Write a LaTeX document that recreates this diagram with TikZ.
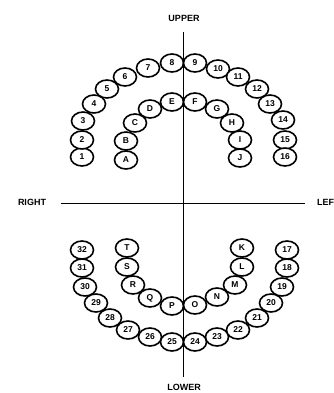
\documentclass[tikz,border=0pt]{standalone}
\usepackage{fontspec}
\setmainfont{Liberation Sans}
\usetikzlibrary{shapes.geometric, positioning}

\tikzset{
  tooth/.style={ellipse, draw, line width=1.6pt, fill=white, minimum width=23pt,
    minimum height=18pt, inner sep=0pt, font=\fontsize{8.5}{9}\selectfont\bfseries},
  side/.style={font=\fontsize{9}{10}\selectfont\bfseries, inner sep=0pt},
  axis/.style={line width=1pt}
}

\begin{document}
\begin{tikzpicture}[x=1pt, y=-1pt]
   \useasboundingbox[fill=white] (0,0) rectangle (333,393);
   % axes
   \coordinate (top) at (183,32);
   \coordinate (bottom) at (183,377);
   \coordinate (west) at (61,203);
   \coordinate (east) at (305,203);
   \draw[axis] (top) -- (bottom);
   \draw[axis] (west) -- (east);
   \node[side] (upper) at (184,18) {UPPER};
   \node[side] (lower) at (184,387) {LOWER};
   \node[side] (right) at (32,202) {RIGHT};
   \node[side, anchor=west] (left) at (317,202) {LEFT};
   % upper teeth
   \foreach \n/\x/\y in {1/82/157, 2/82/140, 3/83/121, 4/94/104, 5/107/89, 6/125/77,
       7/148/68, 8/172/63, 9/195/63, 10/218/69, 11/238/77, 12/257/89, 13/270/104,
       14/283/120, 15/285/140, 16/285/157,
       A/126/160, B/126/141, C/135/123, D/150/109, E/172/102, F/195/102, G/217/109,
       H/232/123, I/240/140, J/240/158}
     \node[tooth] (t\n) at (\x,\y) {\n};
   % lower teeth
   \foreach \n/\x/\y in {32/82/250, 31/82/268, 30/85/287, 29/96/303, 28/110/318,
       27/128/330, 26/150/337, 25/172/342, 24/195/342, 23/217/337, 22/238/330,
       21/257/318, 20/271/303, 19/282/287, 18/287/268, 17/287/250,
       T/127/248, S/127/267, R/133/285, Q/150/298, P/172/306, O/195/305, N/217/297,
       M/235/285, L/242/267, K/242/248}
     \node[tooth] (t\n) at (\x,\y) {\n};
\end{tikzpicture}
\end{document}
